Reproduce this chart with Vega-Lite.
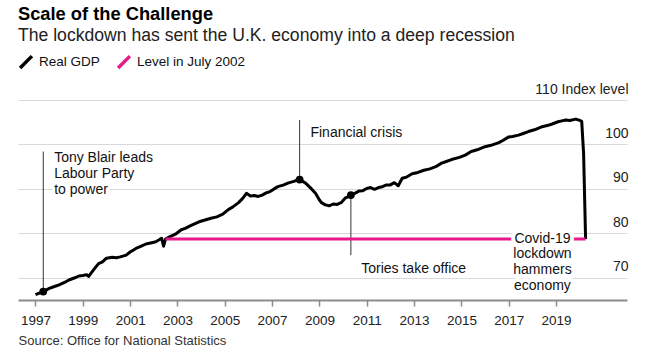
{
  "$schema": "https://vega.github.io/schema/vega-lite/v6.json",
  "autosize": "none",
  "width": 609,
  "height": 200,
  "padding": {"left": 18, "top": 100, "right": 24, "bottom": 59},
  "background": "white",
  "config": {
    "font": "Liberation Sans",
    "view": {"stroke": null}
  },
  "title": {
    "text": "Scale of the Challenge",
    "subtitle": "The lockdown has sent the U.K. economy into a deep recession",
    "anchor": "start",
    "frame": "group",
    "fontSize": 18.3,
    "fontWeight": "bold",
    "color": "#000000",
    "subtitleFontSize": 17.6,
    "subtitleColor": "#222222",
    "subtitlePadding": 3,
    "offset": 8
  },
  "datasets": {
    "gdp": [
      {"date": "1997-01-01", "value": 66.2, "series": "Real GDP"},
      {"date": "1997-05-01", "value": 66.9, "series": "Real GDP"},
      {"date": "1997-08-01", "value": 67.6, "series": "Real GDP"},
      {"date": "1997-11-01", "value": 68.1, "series": "Real GDP"},
      {"date": "1998-01-01", "value": 68.4, "series": "Real GDP"},
      {"date": "1998-04-01", "value": 69.0, "series": "Real GDP"},
      {"date": "1998-06-01", "value": 69.5, "series": "Real GDP"},
      {"date": "1998-09-01", "value": 70.0, "series": "Real GDP"},
      {"date": "1998-11-01", "value": 70.4, "series": "Real GDP"},
      {"date": "1999-01-01", "value": 70.5, "series": "Real GDP"},
      {"date": "1999-03-01", "value": 70.7, "series": "Real GDP"},
      {"date": "1999-04-01", "value": 70.3, "series": "Real GDP"},
      {"date": "1999-06-01", "value": 71.5, "series": "Real GDP"},
      {"date": "1999-09-01", "value": 73.2, "series": "Real GDP"},
      {"date": "1999-11-01", "value": 73.6, "series": "Real GDP"},
      {"date": "2000-01-01", "value": 74.4, "series": "Real GDP"},
      {"date": "2000-04-01", "value": 74.6, "series": "Real GDP"},
      {"date": "2000-06-01", "value": 74.5, "series": "Real GDP"},
      {"date": "2000-08-01", "value": 74.7, "series": "Real GDP"},
      {"date": "2000-11-01", "value": 75.1, "series": "Real GDP"},
      {"date": "2001-01-01", "value": 75.8, "series": "Real GDP"},
      {"date": "2001-04-01", "value": 76.6, "series": "Real GDP"},
      {"date": "2001-07-01", "value": 77.2, "series": "Real GDP"},
      {"date": "2001-09-01", "value": 77.6, "series": "Real GDP"},
      {"date": "2001-12-01", "value": 77.9, "series": "Real GDP"},
      {"date": "2002-02-01", "value": 78.1, "series": "Real GDP"},
      {"date": "2002-04-01", "value": 78.6, "series": "Real GDP"},
      {"date": "2002-05-01", "value": 78.9, "series": "Real GDP"},
      {"date": "2002-06-01", "value": 77.1, "series": "Real GDP"},
      {"date": "2002-07-01", "value": 78.7, "series": "Real GDP"},
      {"date": "2002-09-01", "value": 79.2, "series": "Real GDP"},
      {"date": "2002-12-01", "value": 79.8, "series": "Real GDP"},
      {"date": "2003-03-01", "value": 80.8, "series": "Real GDP"},
      {"date": "2003-05-01", "value": 81.1, "series": "Real GDP"},
      {"date": "2003-08-01", "value": 81.8, "series": "Real GDP"},
      {"date": "2003-12-01", "value": 82.6, "series": "Real GDP"},
      {"date": "2004-03-01", "value": 83.0, "series": "Real GDP"},
      {"date": "2004-06-01", "value": 83.4, "series": "Real GDP"},
      {"date": "2004-09-01", "value": 83.7, "series": "Real GDP"},
      {"date": "2004-12-01", "value": 84.3, "series": "Real GDP"},
      {"date": "2005-03-01", "value": 85.4, "series": "Real GDP"},
      {"date": "2005-05-01", "value": 85.9, "series": "Real GDP"},
      {"date": "2005-08-01", "value": 86.9, "series": "Real GDP"},
      {"date": "2005-10-01", "value": 87.8, "series": "Real GDP"},
      {"date": "2005-12-01", "value": 89.0, "series": "Real GDP"},
      {"date": "2006-02-01", "value": 88.4, "series": "Real GDP"},
      {"date": "2006-04-01", "value": 88.5, "series": "Real GDP"},
      {"date": "2006-06-01", "value": 88.3, "series": "Real GDP"},
      {"date": "2006-08-01", "value": 88.6, "series": "Real GDP"},
      {"date": "2006-10-01", "value": 89.1, "series": "Real GDP"},
      {"date": "2006-12-01", "value": 89.4, "series": "Real GDP"},
      {"date": "2007-02-01", "value": 90.0, "series": "Real GDP"},
      {"date": "2007-04-01", "value": 90.5, "series": "Real GDP"},
      {"date": "2007-07-01", "value": 90.9, "series": "Real GDP"},
      {"date": "2007-09-01", "value": 91.3, "series": "Real GDP"},
      {"date": "2007-12-01", "value": 91.7, "series": "Real GDP"},
      {"date": "2008-02-01", "value": 92.0, "series": "Real GDP"},
      {"date": "2008-03-01", "value": 92.1, "series": "Real GDP"},
      {"date": "2008-06-01", "value": 91.3, "series": "Real GDP"},
      {"date": "2008-09-01", "value": 90.0, "series": "Real GDP"},
      {"date": "2008-11-01", "value": 89.0, "series": "Real GDP"},
      {"date": "2009-01-01", "value": 87.5, "series": "Real GDP"},
      {"date": "2009-02-01", "value": 86.9, "series": "Real GDP"},
      {"date": "2009-04-01", "value": 86.4, "series": "Real GDP"},
      {"date": "2009-06-01", "value": 86.2, "series": "Real GDP"},
      {"date": "2009-08-01", "value": 86.6, "series": "Real GDP"},
      {"date": "2009-10-01", "value": 86.5, "series": "Real GDP"},
      {"date": "2009-12-01", "value": 86.9, "series": "Real GDP"},
      {"date": "2010-02-01", "value": 87.9, "series": "Real GDP"},
      {"date": "2010-04-01", "value": 88.3, "series": "Real GDP"},
      {"date": "2010-05-01", "value": 88.6, "series": "Real GDP"},
      {"date": "2010-07-01", "value": 89.0, "series": "Real GDP"},
      {"date": "2010-09-01", "value": 89.5, "series": "Real GDP"},
      {"date": "2010-11-01", "value": 89.6, "series": "Real GDP"},
      {"date": "2011-01-01", "value": 90.1, "series": "Real GDP"},
      {"date": "2011-03-01", "value": 90.3, "series": "Real GDP"},
      {"date": "2011-05-01", "value": 89.9, "series": "Real GDP"},
      {"date": "2011-07-01", "value": 90.3, "series": "Real GDP"},
      {"date": "2011-09-01", "value": 90.5, "series": "Real GDP"},
      {"date": "2011-11-01", "value": 90.9, "series": "Real GDP"},
      {"date": "2012-01-01", "value": 90.9, "series": "Real GDP"},
      {"date": "2012-03-01", "value": 91.4, "series": "Real GDP"},
      {"date": "2012-05-01", "value": 90.7, "series": "Real GDP"},
      {"date": "2012-07-01", "value": 92.4, "series": "Real GDP"},
      {"date": "2012-09-01", "value": 92.6, "series": "Real GDP"},
      {"date": "2012-12-01", "value": 93.4, "series": "Real GDP"},
      {"date": "2013-03-01", "value": 93.7, "series": "Real GDP"},
      {"date": "2013-06-01", "value": 94.2, "series": "Real GDP"},
      {"date": "2013-09-01", "value": 94.5, "series": "Real GDP"},
      {"date": "2013-12-01", "value": 95.0, "series": "Real GDP"},
      {"date": "2014-03-01", "value": 95.8, "series": "Real GDP"},
      {"date": "2014-05-01", "value": 96.1, "series": "Real GDP"},
      {"date": "2014-08-01", "value": 96.6, "series": "Real GDP"},
      {"date": "2014-12-01", "value": 97.1, "series": "Real GDP"},
      {"date": "2015-03-01", "value": 97.6, "series": "Real GDP"},
      {"date": "2015-06-01", "value": 98.4, "series": "Real GDP"},
      {"date": "2015-09-01", "value": 98.8, "series": "Real GDP"},
      {"date": "2016-01-01", "value": 99.5, "series": "Real GDP"},
      {"date": "2016-04-01", "value": 99.8, "series": "Real GDP"},
      {"date": "2016-08-01", "value": 100.4, "series": "Real GDP"},
      {"date": "2016-10-01", "value": 100.9, "series": "Real GDP"},
      {"date": "2017-01-01", "value": 101.7, "series": "Real GDP"},
      {"date": "2017-03-01", "value": 101.8, "series": "Real GDP"},
      {"date": "2017-06-01", "value": 102.1, "series": "Real GDP"},
      {"date": "2017-08-01", "value": 102.4, "series": "Real GDP"},
      {"date": "2017-11-01", "value": 102.9, "series": "Real GDP"},
      {"date": "2018-02-01", "value": 103.3, "series": "Real GDP"},
      {"date": "2018-06-01", "value": 104.0, "series": "Real GDP"},
      {"date": "2018-09-01", "value": 104.3, "series": "Real GDP"},
      {"date": "2018-11-01", "value": 104.6, "series": "Real GDP"},
      {"date": "2019-02-01", "value": 105.1, "series": "Real GDP"},
      {"date": "2019-04-01", "value": 105.3, "series": "Real GDP"},
      {"date": "2019-06-01", "value": 105.5, "series": "Real GDP"},
      {"date": "2019-08-01", "value": 105.4, "series": "Real GDP"},
      {"date": "2019-11-01", "value": 105.7, "series": "Real GDP"},
      {"date": "2020-01-01", "value": 105.4, "series": "Real GDP"},
      {"date": "2020-02-01", "value": 105.2, "series": "Real GDP"},
      {"date": "2020-03-01", "value": 98.0, "series": "Real GDP"},
      {"date": "2020-04-01", "value": 78.7, "series": "Real GDP"},
      {"date": "2002-07-01", "value": 78.7, "series": "Level in July 2002"},
      {"date": "2020-04-01", "value": 78.7, "series": "Level in July 2002"}
    ],
    "events": [
      {"date": "1997-05-01", "value": 66.9, "top": 98.4, "textDate": "1997-10-16", "textValue": 98.5, "label": ["Tony Blair leads", "Labour Party", "to power"]},
      {"date": "2008-03-01", "value": 92.1, "top": 105.5, "textDate": "2008-08-15", "textValue": 104.15, "label": ["Financial crisis"]},
      {"date": "2010-05-01", "value": 88.6, "top": 75.1, "textDate": "2010-10-08", "textValue": 73.55, "label": ["Tories take office"]}
    ],
    "covid": [
      {"date": "2018-06-05", "value": 80.4, "label": ["Covid-19", "lockdown", "hammers", "economy"]}
    ]
  },
  "layer": [
    {
      "data": {"name": "events"},
      "mark": {"type": "rule", "color": "#333333", "strokeWidth": 1},
      "encoding": {
        "x": {"field": "date", "type": "temporal"},
        "y": {"field": "value", "type": "quantitative"},
        "y2": {"field": "top"}
      }
    },
    {
      "data": {"name": "gdp"},
      "mark": {"type": "line", "strokeWidth": 3, "strokeJoin": "round"},
      "encoding": {
        "x": {
          "field": "date", "type": "temporal",
          "scale": {"domain": ["1996-04-06", "2021-12-31"]},
          "axis": {
            "values": [
              {"year": 1997, "month": 1, "date": 1}, {"year": 1999, "month": 1, "date": 1},
              {"year": 2001, "month": 1, "date": 1}, {"year": 2003, "month": 1, "date": 1},
              {"year": 2005, "month": 1, "date": 1}, {"year": 2007, "month": 1, "date": 1},
              {"year": 2009, "month": 1, "date": 1}, {"year": 2011, "month": 1, "date": 1},
              {"year": 2013, "month": 1, "date": 1}, {"year": 2015, "month": 1, "date": 1},
              {"year": 2017, "month": 1, "date": 1}, {"year": 2019, "month": 1, "date": 1}
            ],
            "format": "%Y",
            "grid": false,
            "domainColor": "#8c8c8c",
            "domainWidth": 2,
            "tickColor": "#8c8c8c",
            "tickWidth": 1.5,
            "tickSize": 6,
            "labelFontSize": 13.5,
            "labelColor": "#222222",
            "labelPadding": 7,
            "labelFlush": false,
            "title": "Source: Office for National Statistics",
            "titleAnchor": "start",
            "titleAlign": "left",
            "titleFontSize": 13,
            "titleFontWeight": "normal",
            "titleColor": "#333333",
            "titlePadding": 8
          }
        },
        "y": {
          "field": "value", "type": "quantitative",
          "scale": {"domain": [65, 110], "nice": false, "zero": false},
          "axis": {
            "orient": "right",
            "values": [70, 80, 90, 100, 110],
            "grid": true,
            "gridColor": "#d9d9d9",
            "gridWidth": 1,
            "domain": false,
            "ticks": false,
            "labelAlign": "right",
            "labelBaseline": "alphabetic",
            "labelPadding": 1,
            "labelOffset": -7,
            "labelFontSize": 14,
            "labelColor": "#222222",
            "labelExpr": "datum.value == 110 ? '110 Index level' : datum.label",
            "title": null
          }
        },
        "color": {
          "field": "series", "type": "nominal",
          "scale": {"domain": ["Real GDP", "Level in July 2002"], "range": ["#000000", "#e8198b"]},
          "legend": {
            "orient": "none",
            "legendX": 0,
            "legendY": -46,
            "direction": "horizontal",
            "title": null,
            "symbolType": "M-1,1L1,-1",
            "symbolSize": 140,
            "symbolStrokeWidth": 3.5,
            "symbolFillColor": "transparent",
            "labelFontSize": 13.5,
            "labelColor": "#111111",
            "labelOffset": 5,
            "columnPadding": 11,
            "padding": 0
          }
        }
      }
    },
    {
      "data": {"name": "events"},
      "mark": {"type": "point", "filled": true, "color": "#000000", "size": 60, "opacity": 1},
      "encoding": {
        "x": {"field": "date", "type": "temporal"},
        "y": {"field": "value", "type": "quantitative"}
      }
    },
    {
      "data": {"name": "events"},
      "mark": {"type": "text", "align": "left", "baseline": "top", "fontSize": 14, "lineHeight": 16, "stroke": "white", "strokeWidth": 6, "strokeJoin": "round"},
      "encoding": {
        "x": {"field": "textDate", "type": "temporal"},
        "y": {"field": "textValue", "type": "quantitative"},
        "text": {"field": "label"}
      }
    },
    {
      "data": {"name": "events"},
      "mark": {"type": "text", "align": "left", "baseline": "top", "fontSize": 14, "lineHeight": 16, "color": "#111111"},
      "encoding": {
        "x": {"field": "textDate", "type": "temporal"},
        "y": {"field": "textValue", "type": "quantitative"},
        "text": {"field": "label"}
      }
    },
    {
      "data": {"name": "covid"},
      "mark": {"type": "text", "align": "center", "baseline": "top", "fontSize": 14, "lineHeight": 15.8, "stroke": "white", "strokeWidth": 8, "strokeJoin": "round"},
      "encoding": {
        "x": {"field": "date", "type": "temporal"},
        "y": {"field": "value", "type": "quantitative"},
        "text": {"field": "label"}
      }
    },
    {
      "data": {"name": "covid"},
      "mark": {"type": "text", "align": "center", "baseline": "top", "fontSize": 14, "lineHeight": 15.8, "color": "#111111"},
      "encoding": {
        "x": {"field": "date", "type": "temporal"},
        "y": {"field": "value", "type": "quantitative"},
        "text": {"field": "label"}
      }
    }
  ]
}
